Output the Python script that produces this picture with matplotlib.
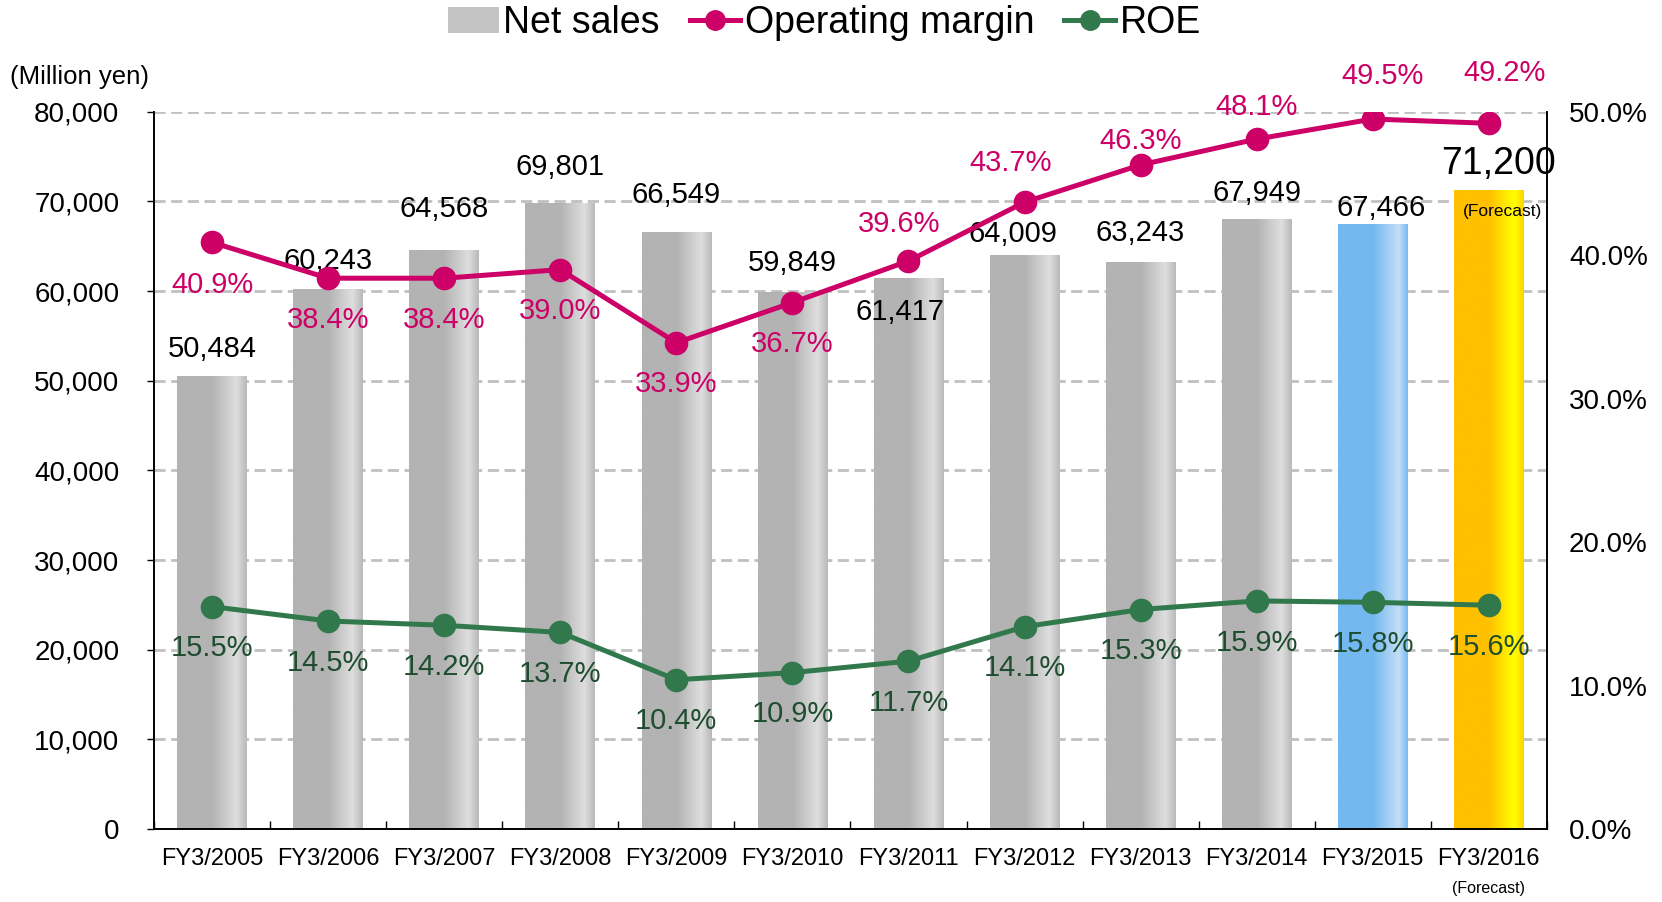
import numpy as np
import matplotlib
matplotlib.use("Agg")
import matplotlib.pyplot as plt
from matplotlib.colors import LinearSegmentedColormap
from matplotlib.patches import Patch
from matplotlib.lines import Line2D

plt.rcParams["font.family"] = ["Liberation Sans", "DejaVu Sans"]

years = ["FY3/2005", "FY3/2006", "FY3/2007", "FY3/2008", "FY3/2009", "FY3/2010",
         "FY3/2011", "FY3/2012", "FY3/2013", "FY3/2014", "FY3/2015", "FY3/2016"]
net_sales = [50484, 60243, 64568, 69801, 66549, 59849, 61417, 64009, 63243, 67949, 67466, 71200]
op_margin = [40.9, 38.4, 38.4, 39.0, 33.9, 36.7, 39.6, 43.7, 46.3, 48.1, 49.5, 49.2]
roe = [15.5, 14.5, 14.2, 13.7, 10.4, 10.9, 11.7, 14.1, 15.3, 15.9, 15.8, 15.6]

MAGENTA = "#CC0066"
GREEN = "#31794C"
GREEN_TXT = "#1F4D30"

gray_cm = LinearSegmentedColormap.from_list(
    "g", [(0, "#B3B3B3"), (0.5, "#B3B3B3"), (0.85, "#DEDEDE"), (1, "#B9B9B9")])
blue_cm = LinearSegmentedColormap.from_list(
    "b", [(0, "#74B8F0"), (0.5, "#74B8F0"), (0.87, "#C2DEF6"), (1, "#78BAF0")])
gold_cm = LinearSegmentedColormap.from_list(
    "o", [(0, "#FFC000"), (0.5, "#FFC000"), (0.87, "#FFFF00"), (1, "#FFD200")])
bar_cmaps = [gray_cm] * 10 + [blue_cm, gold_cm]

fig = plt.figure(figsize=(16.62, 9.02), dpi=100)
ax = fig.add_axes([0.0927, 0.081, 0.838, 0.795])
ax2 = ax.twinx()

x = np.arange(len(years))
w = 0.6
grad = np.linspace(0, 1, 256).reshape(1, -1)
for xi, h, cm in zip(x, net_sales, bar_cmaps):
    ax.imshow(grad, cmap=cm, aspect="auto", extent=(xi - w / 2, xi + w / 2, 0, h),
              zorder=2, interpolation="bilinear")

ax.set_xlim(-0.5, len(years) - 0.5)
ax.set_ylim(0, 80000)
ax.set_yticks(np.arange(0, 80001, 10000))
ax.set_yticklabels([f"{v:,}" for v in range(0, 80001, 10000)])
ax.yaxis.grid(True, color="#C0C0C0", linestyle=(0, (4, 2)), linewidth=2, zorder=0)
ax.set_axisbelow(True)
ax.set_xticks(x)
ax.set_xticklabels(years)
ax.set_xticks(np.arange(-0.5, len(years)), minor=True)
ax.tick_params(axis="x", which="major", length=0, labelsize=17, pad=14)
ax.tick_params(axis="x", which="minor", direction="in", length=6, width=1)
ax.tick_params(axis="y", length=5, width=1, labelsize=20, pad=20)

ax2.set_ylim(0, 50)
ax2.set_yticks(np.arange(0, 51, 10))
ax2.set_yticklabels([f"{v:.1f}%" for v in range(0, 51, 10)])
ax2.tick_params(axis="y", length=0, labelsize=20, pad=16)

for a in (ax, ax2):
    a.spines["top"].set_visible(False)
    for s in ("left", "right", "bottom"):
        a.spines[s].set_linewidth(1.2)

ax2.plot(x, op_margin, color=MAGENTA, lw=3.6, marker="o", ms=16, zorder=4)
ax2.plot(x, roe, color=GREEN, lw=3.6, marker="o", ms=16, zorder=4)

# label offsets (points)
sales_off = [(0, 20), (0, 20), (0, 30), (0, 26), (0, 27), (0, 21),
             (-6, -24), (-8, 15), (0, 21), (0, 19), (6, 12), (7, 19)]
for i, (v, off) in enumerate(zip(net_sales, sales_off)):
    ax.annotate(f"{v:,}", (x[i], v), xytext=off, textcoords="offset points",
                ha="center", va="center", fontsize=27 if i == 11 else 21, zorder=6,
                annotation_clip=False)
ax.annotate("(Forecast)", (x[11], net_sales[11]), xytext=(10, -15),
            textcoords="offset points", ha="center", va="center", fontsize=12.5, zorder=6)

om_off = [(0, -31), (0, -30), (0, -30), (0, -30), (0, -30), (0, -30),
          (-7, 27), (-10, 28), (0, 17), (0, 23), (7, 31), (11, 36)]
for i, (v, off) in enumerate(zip(op_margin, om_off)):
    ax2.annotate(f"{v:.1f}%", (x[i], v), xytext=off, textcoords="offset points",
                 ha="center", va="center", fontsize=21, color=MAGENTA, zorder=6,
                 annotation_clip=False)

for i, v in enumerate(roe):
    ax2.annotate(f"{v:.1f}%", (x[i], v), xytext=(0, -30), textcoords="offset points",
                 ha="center", va="center", fontsize=21, color=GREEN_TXT, zorder=6)

ax.annotate("(Forecast)", (x[11], 0), xycoords=("data", "axes fraction"),
            xytext=(0, -43), textcoords="offset points", ha="center", va="center",
            fontsize=11.5)
fig.text(0.048, 0.915, "(Million yen)", ha="center", va="center", fontsize=18.5)

handles = [Patch(facecolor="#C4C4C4", edgecolor="none"),
           Line2D([], [], color=MAGENTA, lw=3.6, marker="o", ms=14),
           Line2D([], [], color=GREEN, lw=3.6, marker="o", ms=14)]
fig.legend(handles, ["Net sales", "Operating margin", "ROE"], loc="center",
           bbox_to_anchor=(0.496, 0.974), ncol=3, frameon=False, fontsize=27,
           handlelength=1.35, handletextpad=0.12, columnspacing=0.8)

fig.savefig("out.png", dpi=100)
